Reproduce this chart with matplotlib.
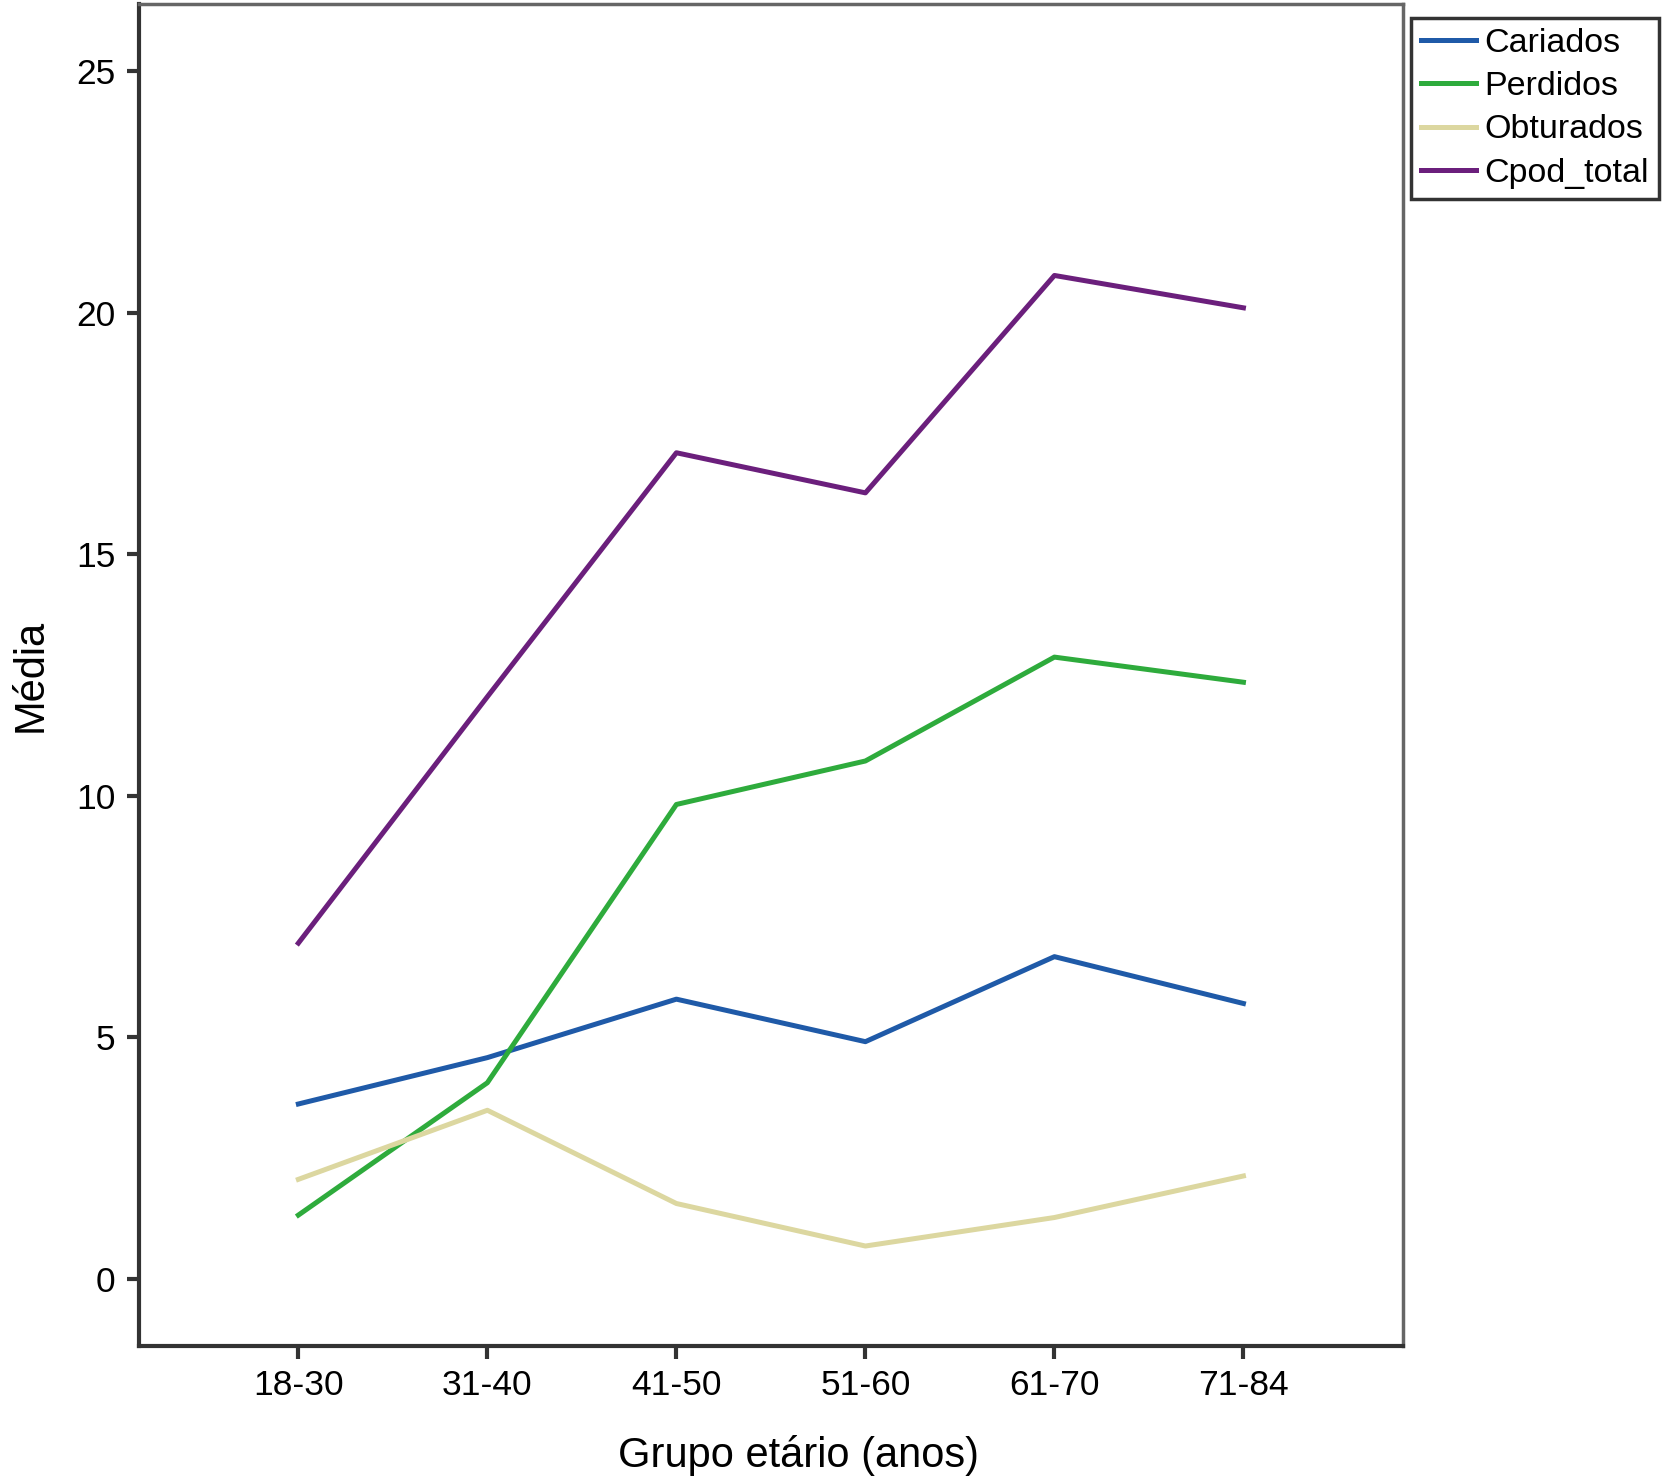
import matplotlib
matplotlib.use("Agg")
import matplotlib.pyplot as plt

categories = ["18-30", "31-40", "41-50", "51-60", "61-70", "71-84"]
cariados = [3.62, 4.58, 5.79, 4.91, 6.67, 5.70]
perdidos = [1.32, 4.06, 9.82, 10.72, 12.87, 12.35]
obturados = [2.06, 3.49, 1.56, 0.68, 1.27, 2.13]
cpod_total = [6.95, 12.05, 17.10, 16.27, 20.77, 20.10]
yticks = [0, 5, 10, 15, 20, 25]

plt.rcParams['font.family'] = ['Liberation Sans', 'DejaVu Sans']

fig = plt.figure(figsize=(16.65, 14.77), dpi=100)
ax = fig.add_axes([0.0835, 0.089, 0.759, 0.908])

x = list(range(len(categories)))
lw = 3.6
l1, = ax.plot(x, cariados, color="#1f5aa8", lw=lw, label="Cariados")
l2, = ax.plot(x, perdidos, color="#2eab3c", lw=lw, label="Perdidos")
l3, = ax.plot(x, obturados, color="#dcd7a0", lw=lw, label="Obturados")
l4, = ax.plot(x, cpod_total, color="#6b1f7c", lw=lw, label="Cpod_total")

ax.set_xlim(-0.843, 5.843)
ax.set_ylim(-1.38, 26.38)
ax.set_xticks(x)
ax.set_xticklabels(categories)
ax.set_yticks(yticks)
ax.tick_params(axis='both', labelsize=25.5, width=3, length=9, color="#333333", pad=8)
for s in ["left", "bottom"]:
    ax.spines[s].set_color("#333333")
    ax.spines[s].set_linewidth(3)
for s in ["top", "right"]:
    ax.spines[s].set_color("#666666")
    ax.spines[s].set_linewidth(2.5)

ax.set_xlabel("Grupo etário (anos)", fontsize=30, labelpad=24)
ax.xaxis.label.set_x(0.522)
ax.set_ylabel("Média", fontsize=30, labelpad=18)

leg = fig.legend(handles=[l1, l2, l3, l4], loc="upper left",
                 bbox_to_anchor=(0.8476, 0.988), fontsize=24.5,
                 frameon=True, fancybox=False, borderpad=0.3,
                 labelspacing=0.36, handlelength=1.6, handletextpad=0.25,
                 borderaxespad=0.0)
leg.get_frame().set_edgecolor("black")
leg.get_frame().set_linewidth(2.5)

fig.savefig("out.png", dpi=100)
